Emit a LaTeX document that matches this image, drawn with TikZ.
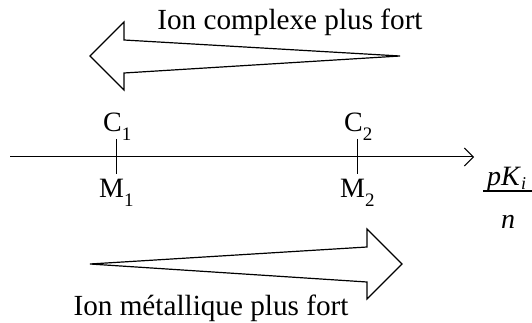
\documentclass[tikz,border=0pt]{standalone}
\usepackage{fontspec}
\setmainfont{Liberation Serif}
\usetikzlibrary{arrows.meta}
\newcommand{\subidx}[1]{\raisebox{-9pt}{\fontsize{19}{20}\selectfont #1}}
\begin{document}
\begin{tikzpicture}[x=1pt,y=-1pt,
  bigarrow/.style={draw=black,line width=1.2pt,fill=white,line join=miter},
  lbl/.style={inner sep=0pt,font=\fontsize{28}{30}\selectfont},
  big/.style={inner sep=0pt,font=\fontsize{29.2}{31}\selectfont},
  tick/.style={line width=1pt}]
\useasboundingbox (0,0) rectangle (532,323);
% top arrow (to the left)
\draw[bigarrow] (400,56) -- (124,40) -- (124,22) -- (90,56) -- (124,90) -- (124,73) -- cycle;
\node[big,anchor=base] (t1) at (290,30) {Ion complexe plus fort};
% bottom arrow (to the right)
\draw[bigarrow] (90,264) -- (367,247) -- (367,229) -- (402,264) -- (367,299) -- (367,282) -- cycle;
\node[big,anchor=base] (t2) at (211,315) {Ion métallique plus fort};
% axis
\coordinate (a0) at (10,157);
\coordinate (a1) at (474,157);
\draw[line width=1pt,-{Straight Barb[length=9pt,width=18pt,line width=1pt]}] (a0) -- (a1);
\coordinate (c1t) at (116,139); \coordinate (c1b) at (116,174);
\coordinate (c2t) at (357,139); \coordinate (c2b) at (357,174);
\draw[tick] (c1t) -- (c1b);
\draw[tick] (c2t) -- (c2b);
\node[lbl,anchor=base west] (C1) at (103,132) {C\subidx{1}};
\node[lbl,anchor=base west] (M1) at (99,197) {M\subidx{1}};
\node[lbl,anchor=base west] (C2) at (344,132) {C\subidx{2}};
\node[lbl,anchor=base west] (M2) at (340,197) {M\subidx{2}};
% fraction pK_i / n
\node[lbl,anchor=base west] (num) at (487,185) {\textit{pK}\raisebox{-5pt}{\fontsize{18}{20}\selectfont\textit{i}}};
\node[lbl,anchor=base] (den) at (508,228) {\textit{n}};
\coordinate (barL) at (483,191); \coordinate (barR) at (532,191);
\draw[line width=1.1pt] (barL) -- (barR);
\end{tikzpicture}
\end{document}
